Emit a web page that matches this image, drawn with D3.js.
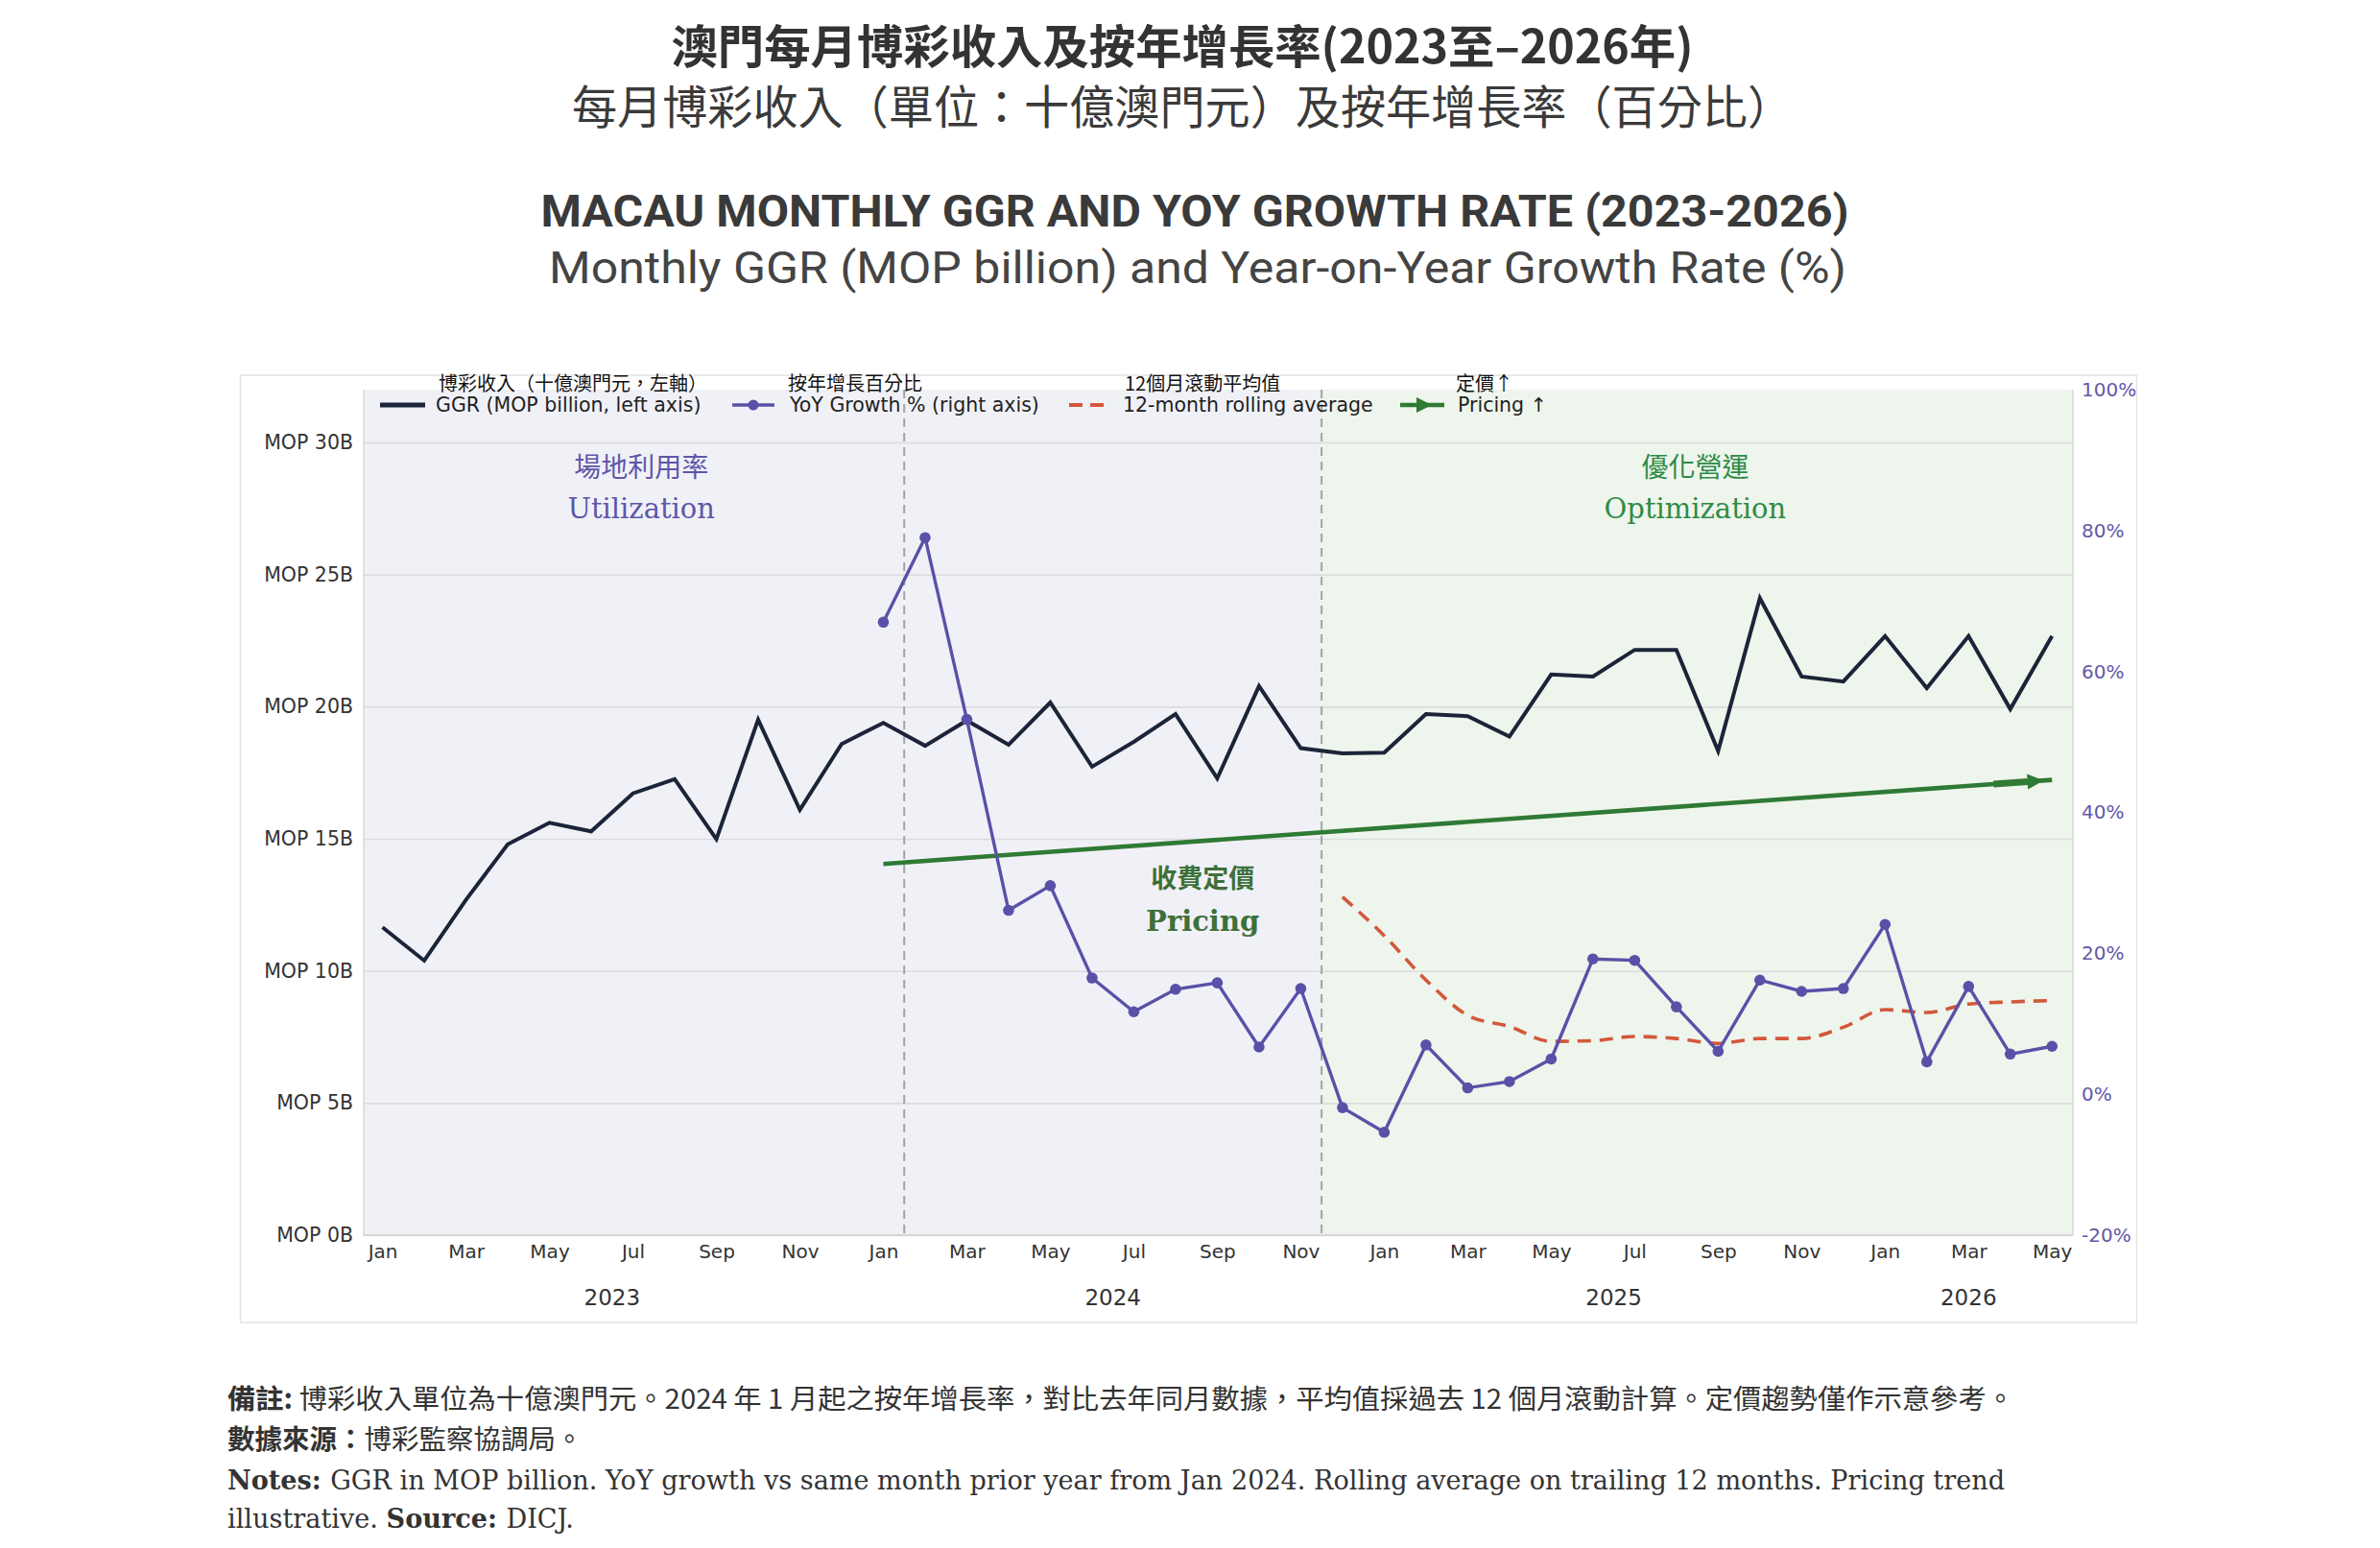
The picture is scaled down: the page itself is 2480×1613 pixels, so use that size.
<!DOCTYPE html>
<html><head><meta charset="utf-8">
<script src="https://cdn.jsdelivr.net/npm/d3@7"></script>
<style>body{margin:0;background:#fff}</style>
</head><body>
<svg id="c" width="2480" height="1613" xmlns="http://www.w3.org/2000/svg"></svg>
<script>
// ---------------- DATA ----------------
const months = [
 "2023-01","2023-02","2023-03","2023-04","2023-05","2023-06","2023-07","2023-08","2023-09","2023-10","2023-11","2023-12",
 "2024-01","2024-02","2024-03","2024-04","2024-05","2024-06","2024-07","2024-08","2024-09","2024-10","2024-11","2024-12",
 "2025-01","2025-02","2025-03","2025-04","2025-05","2025-06","2025-07","2025-08","2025-09","2025-10","2025-11","2025-12",
 "2026-01","2026-02","2026-03","2026-04","2026-05"];
const ggr = [11.65,10.39,12.69,14.79,15.61,15.28,16.72,17.26,14.99,19.51,16.10,18.59,
 19.39,18.52,19.48,18.56,20.16,17.73,18.67,19.72,17.29,20.78,18.43,18.23,
 18.26,19.72,19.64,18.87,21.22,21.14,22.15,22.15,18.32,24.11,21.14,20.95,
 22.67,20.70,22.67,19.91,22.67];
const yoy = [null,null,null,null,null,null,null,null,null,null,null,null,
 67.0,79.0,53.2,26.1,29.6,16.5,11.7,14.9,15.8,6.7,15.0,-1.9,
 -5.4,7.0,0.9,1.8,5.0,19.2,19.0,12.4,6.1,16.2,14.6,15.0,
 24.1,4.6,15.3,5.7,6.8];
const rolling = [null,null,null,null,null,null,null,null,null,null,null,null,
 null,null,null,null,null,null,null,null,null,null,null,28.0,
 22.5,16.2,11.2,9.6,7.5,7.6,8.2,7.9,7.2,7.9,7.9,9.5,
 12.0,11.6,12.8,13.1,13.3];
const pricingMonths = ["2024-01","2026-05"];
const pricingValues = [14.05,17.23];
const leftTicks = [0,5,10,15,20,25,30];
const rightTicks = [-20,0,20,40,60,80,100];
const phaseBreaks = ["2024-01","2024-11"]; // dashed separators sit half a month after these
const legendEn = ["GGR (MOP billion, left axis)","YoY Growth % (right axis)","12-month rolling average","Pricing \u2191"];
const legendZh = ["博彩收入（十億澳門元，左軸）","按年增長百分比","12個月滾動平均值","定價\u2191"];

// ---------------- LAYOUT ----------------
const W=2480,H=1613;
const L=379,R=2160,T=406,B=1287;
const svg=d3.select("#c");
svg.append("rect").attr("width",W).attr("height",H).attr("fill","#fff");

const idx = m => months.indexOf(m);
const x = d3.scaleLinear().domain([-0.45,40.5]).range([L,R]);
const yL = d3.scaleLinear().domain([0,32]).range([B,T]);
const yR = d3.scaleLinear().domain([-20,100]).range([B,T]);

const CJK = "'Noto Sans CJK TC','Noto Sans CJK SC',sans-serif";
const SANS = "'DejaVu Sans',sans-serif";
const SERIF = "'DejaVu Serif',serif";

// outer frame
svg.append("rect").attr("x",250.5).attr("y",391).attr("width",1976).attr("height",987)
  .attr("fill","none").attr("stroke","#e4e4e4").attr("stroke-width",1.5);

// titles
svg.append("text").attr("x",1232).attr("y",45).attr("text-anchor","middle").attr("dominant-baseline","central")
  .attr("font-family",CJK).attr("font-weight",700).attr("font-size",48).attr("fill","#333")
  .attr("textLength",1065).attr("lengthAdjust","spacingAndGlyphs")
  .text("澳門每月博彩收入及按年增長率(2023至–2026年)");
svg.append("text").attr("x",1232).attr("y",108).attr("text-anchor","middle").attr("dominant-baseline","central")
  .attr("font-family",CJK).attr("font-weight",400).attr("font-size",47.5).attr("fill","#3a3a3a")
  .attr("textLength",1272).attr("lengthAdjust","spacingAndGlyphs")
  .text("每月博彩收入（單位：十億澳門元）及按年增長率（百分比）");
svg.append("text").attr("x",1245).attr("y",219).attr("text-anchor","middle").attr("dominant-baseline","central")
  .attr("font-family","Roboto,sans-serif").attr("font-weight",700).attr("font-size",47).attr("fill","#3a3a3a")
  .attr("textLength",1363).attr("lengthAdjust","spacingAndGlyphs")
  .text("MACAU MONTHLY GGR AND YOY GROWTH RATE (2023-2026)");
svg.append("text").attr("x",1248).attr("y",279).attr("text-anchor","middle").attr("dominant-baseline","central")
  .attr("font-family","Roboto,sans-serif").attr("font-weight",400).attr("font-size",46).attr("fill","#444")
  .attr("textLength",1352).attr("lengthAdjust","spacingAndGlyphs")
  .text("Monthly GGR (MOP billion) and Year-on-Year Growth Rate (%)");

// backgrounds
const br0 = idx(phaseBreaks[0])+0.5, br1 = idx(phaseBreaks[1])+0.5;
svg.append("rect").attr("x",L).attr("y",T).attr("width",x(br1)-L).attr("height",B-T).attr("fill","#f0f1f7");
svg.append("rect").attr("x",x(br1)).attr("y",T).attr("width",R-x(br1)).attr("height",B-T).attr("fill","#eef5ec");

// grid
const grid = svg.append("g").attr("transform",`translate(${L},0)`)
  .call(d3.axisLeft(yL).tickValues(leftTicks).tickSize(-(R-L)).tickFormat(""));
grid.select(".domain").remove();
grid.selectAll("line").attr("stroke","#dcdcdf").attr("stroke-width",1.6);

// spines
svg.append("line").attr("x1",L).attr("x2",L).attr("y1",T).attr("y2",B).attr("stroke","#d9d9d9").attr("stroke-width",1.5);
svg.append("line").attr("x1",R).attr("x2",R).attr("y1",T).attr("y2",B).attr("stroke","#d9d9d9").attr("stroke-width",1.5);
svg.append("line").attr("x1",L).attr("x2",R).attr("y1",B).attr("y2",B).attr("stroke","#d6d6d6").attr("stroke-width",2);

// dashed separators
[br0,br1].forEach(b=>{
  svg.append("line").attr("x1",x(b)).attr("x2",x(b)).attr("y1",T).attr("y2",B)
    .attr("stroke","#a3a3a3").attr("stroke-width",2).attr("stroke-dasharray","9,6");
});

// phase annotations
const ann = svg.append("g").attr("text-anchor","middle").attr("dominant-baseline","central");
ann.append("text").attr("x",x(6.2)).attr("y",485).attr("font-family",CJK).attr("font-size",28).attr("fill","#5f56a8").text("場地利用率");
ann.append("text").attr("x",x(6.2)).attr("y",530).attr("font-family",SERIF).attr("font-size",29).attr("fill","#5f56a8").text("Utilization");
ann.append("text").attr("x",x(31.45)).attr("y",485).attr("font-family",CJK).attr("font-size",28).attr("fill","#2e8b47").text("優化營運");
ann.append("text").attr("x",x(31.45)).attr("y",530).attr("font-family",SERIF).attr("font-size",29).attr("fill","#2e8b47").text("Optimization");
ann.append("text").attr("x",x(19.65)).attr("y",913).attr("font-family",CJK).attr("font-weight",700).attr("font-size",27).attr("fill","#3e7038").text("收費定價");
ann.append("text").attr("x",x(19.65)).attr("y",960).attr("font-family",SERIF).attr("font-weight",700).attr("font-size",29).attr("fill","#3e7038").text("Pricing");

// pricing trend line + arrow
const pIdx = pricingMonths.map(idx);
svg.append("line").attr("x1",x(pIdx[0])).attr("y1",yL(pricingValues[0])).attr("x2",x(pIdx[1])).attr("y2",yL(pricingValues[1]))
  .attr("stroke","#2f7a35").attr("stroke-width",4.6);
const pAt = t => pricingValues[0]+(pricingValues[1]-pricingValues[0])*(t-pIdx[0])/(pIdx[1]-pIdx[0]);
{
  const a0=38.6,a1=39.8;
  const x0=x(a0),y0=yL(pAt(a0)),x1=x(a1),y1=yL(pAt(a1));
  const ang=Math.atan2(y1-y0,x1-x0);
  const hl=17, hw=8;
  const bx=x1-hl*Math.cos(ang), by=y1-hl*Math.sin(ang);
  svg.append("line").attr("x1",x0).attr("y1",y0).attr("x2",bx).attr("y2",by).attr("stroke","#2f7a35").attr("stroke-width",7);
  svg.append("path").attr("d",`M${x1},${y1}L${bx-hw*Math.sin(ang)},${by+hw*Math.cos(ang)}L${bx+hw*Math.sin(ang)},${by-hw*Math.cos(ang)}Z`)
    .attr("fill","#2f7a35");
}

// GGR line
svg.append("path").datum(ggr.map((v,i)=>[i,v]))
  .attr("d",d3.line().x(d=>x(d[0])).y(d=>yL(d[1])))
  .attr("fill","none").attr("stroke","#1b2438").attr("stroke-width",4).attr("stroke-linejoin","miter");

// rolling
svg.append("path").datum(rolling.map((v,i)=>[i,v]).filter(d=>d[1]!==null))
  .attr("d",d3.line().x(d=>x(d[0])).y(d=>yR(d[1])).curve(d3.curveMonotoneX))
  .attr("fill","none").attr("stroke","#d3583b").attr("stroke-width",3.6).attr("stroke-dasharray","14,9");

// YoY
const yoyPts = yoy.map((v,i)=>[i,v]).filter(d=>d[1]!==null);
svg.append("path").datum(yoyPts)
  .attr("d",d3.line().x(d=>x(d[0])).y(d=>yR(d[1])))
  .attr("fill","none").attr("stroke","#5b50a8").attr("stroke-width",3.4);
svg.append("g").selectAll("circle").data(yoyPts).join("circle")
  .attr("cx",d=>x(d[0])).attr("cy",d=>yR(d[1])).attr("r",5.8).attr("fill","#5b50a8");

// axes
const ax = svg.append("g").attr("transform",`translate(0,${B})`)
  .call(d3.axisBottom(x).tickValues(months.map((m,i)=>i).filter(i=>i%2===0)).tickSize(0).tickPadding(10)
    .tickFormat(i=>d3.timeFormat("%b")(d3.timeParse("%Y-%m")(months[i]))));
ax.select(".domain").remove();
ax.selectAll("text").attr("font-family",SANS).attr("font-size",20).attr("fill","#333");

const years = Array.from(new Set(months.map(m=>m.slice(0,4))));
svg.append("g").selectAll("text").data(years).join("text")
  .attr("x",yr=>x(d3.mean(months.map((m,i)=>[m,i]).filter(d=>d[0].startsWith(yr)),d=>d[1])))
  .attr("y",1352).attr("text-anchor","middle").attr("dominant-baseline","central")
  .attr("font-family",SANS).attr("font-size",23).attr("fill","#333").text(d=>d);

const axl = svg.append("g").attr("transform",`translate(${L},0)`)
  .call(d3.axisLeft(yL).tickValues(leftTicks).tickSize(0).tickPadding(11).tickFormat(d=>`MOP ${d}B`));
axl.select(".domain").remove();
axl.selectAll("text").attr("font-family",SANS).attr("font-size",20.5).attr("fill","#333");

const axr = svg.append("g").attr("transform",`translate(${R},0)`)
  .call(d3.axisRight(yR).tickValues(rightTicks).tickSize(0).tickPadding(9).tickFormat(d=>`${d}%`));
axr.select(".domain").remove();
axr.selectAll("text").attr("font-family",SANS).attr("font-size",20).attr("fill","#6259a8");

// legend
const lx = [396,763,1114,1459];
const lg = svg.append("g");
legendEn.forEach((t,k)=>{
  const x0=lx[k], yy=422;
  lg.append("text").attr("x",x0+(k===0?61:58)).attr("y",398).attr("dominant-baseline","central")
    .attr("font-family",CJK).attr("font-size",20).attr("fill","#111").text(legendZh[k]);
  lg.append("text").attr("x",x0+(k===0?58:k===2?56:60)).attr("y",yy).attr("dominant-baseline","central")
    .attr("font-family",SANS).attr("font-size",20.5).attr("fill","#222").text(t);
});
lg.append("line").attr("x1",396).attr("x2",443).attr("y1",422).attr("y2",422).attr("stroke","#1b2438").attr("stroke-width",5);
lg.append("line").attr("x1",763).attr("x2",807).attr("y1",422).attr("y2",422).attr("stroke","#5b50a8").attr("stroke-width",3.6);
lg.append("circle").attr("cx",785).attr("cy",422).attr("r",5.5).attr("fill","#5b50a8");
lg.append("line").attr("x1",1114).attr("x2",1152).attr("y1",422).attr("y2",422).attr("stroke","#d3583b").attr("stroke-width",4).attr("stroke-dasharray","14,8");
lg.append("line").attr("x1",1459).attr("x2",1505).attr("y1",422).attr("y2",422).attr("stroke","#2f7a35").attr("stroke-width",4.5);
lg.append("path").attr("d","M1492,422L1476,414L1476,430Z").attr("fill","#2f7a35");

// notes
const n1 = svg.append("text").attr("x",237).attr("y",1455).attr("dominant-baseline","central")
  .attr("font-family",CJK).attr("font-size",28.5).attr("fill","#333")
  .attr("textLength",1862).attr("lengthAdjust","spacingAndGlyphs");
n1.append("tspan").attr("font-weight",700).text("備註: ");
n1.append("tspan").text("博彩收入單位為十億澳門元。2024 年 1 月起之按年增長率，對比去年同月數據，平均值採過去 12 個月滾動計算。定價趨勢僅作示意參考。");
const n2 = svg.append("text").attr("x",237).attr("y",1497).attr("dominant-baseline","central")
  .attr("font-family",CJK).attr("font-size",28.5).attr("fill","#333");
n2.append("tspan").attr("font-weight",700).text("數據來源：");
n2.append("tspan").text("博彩監察協調局。");
const n3 = svg.append("text").attr("x",237).attr("y",1542).attr("dominant-baseline","central")
  .attr("font-family",SERIF).attr("font-size",28).attr("fill","#333")
  .attr("textLength",1852).attr("lengthAdjust","spacingAndGlyphs");
n3.append("tspan").attr("font-weight",700).text("Notes: ");
n3.append("tspan").text("GGR in MOP billion. YoY growth vs same month prior year from Jan 2024. Rolling average on trailing 12 months. Pricing trend");
const n4 = svg.append("text").attr("x",237).attr("y",1582).attr("dominant-baseline","central")
  .attr("font-family",SERIF).attr("font-size",28).attr("fill","#333")
  .attr("textLength",361).attr("lengthAdjust","spacingAndGlyphs");
n4.append("tspan").text("illustrative. ");
n4.append("tspan").attr("font-weight",700).text("Source: ");
n4.append("tspan").text("DICJ.");
</script>
</body></html>
